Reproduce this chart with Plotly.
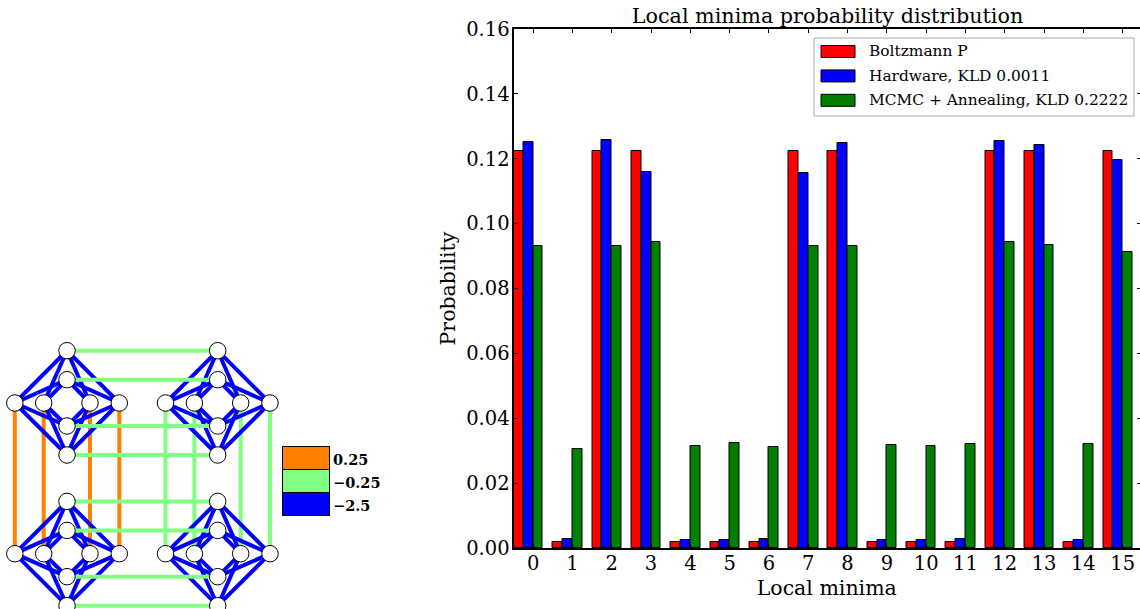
import plotly.graph_objects as go

W, H = 1140, 609
FONT = "DejaVu Serif"

# ---- bar chart data ----
minima = list(range(16))
boltzmann = [.1225, .002, .1225, .1225, .002, .002, .002, .1225, .1225, .002, .002, .002, .1225, .1225, .002, .1225]
hardware = [.1253, .0028, .1257, .1160, .0025, .0026, .0028, .1155, .1250, .0024, .0026, .0027, .1255, .1243, .0026, .1195]
mcmc = [.0930, .0305, .0932, .0943, .0315, .0325, .0310, .0930, .0930, .0317, .0313, .0320, .0943, .0935, .0322, .0913]
series_names = ["Boltzmann P", "Hardware, KLD 0.0011", "MCMC + Annealing, KLD 0.2222"]
series_colors = ["#ff0000", "#0000ff", "#008000"]
y_ticks = [0, .02, .04, .06, .08, .10, .12, .14, .16]
y_ticktext = ["0.00", "0.02", "0.04", "0.06", "0.08", "0.10", "0.12", "0.14", "0.16"]

# ---- graph diagram data (drawn on a pixel-like scale) ----
col_x = [67, 217.7]
row_offsets = [0, 150.7]
vert_rows = [350.7, 379.7, 426, 455]
horiz_offsets = [-52.2, -23.3, 23, 52.3]
horiz_y = 403
ORANGE, LGREEN, BLUE = "#ff8000", "#80ff80", "#0000ff"
key_labels = ["0.25", "\u22120.25", "\u22122.5"]
key_colors = [ORANGE, LGREEN, BLUE]
key_sizes = [23.3, 23.3, 23.3]


def seg(pairs):
    xs, ys = [], []
    for (a, b), (c, d) in pairs:
        xs += [a, c, None]
        ys += [b, d, None]
    return xs, ys


orange_edges = [((col_x[0] + o, horiz_y), (col_x[0] + o, horiz_y + row_offsets[1])) for o in horiz_offsets]
green_v = [((col_x[1] + o, horiz_y), (col_x[1] + o, horiz_y + row_offsets[1])) for o in horiz_offsets]
green_h = [((col_x[0], r + dy), (col_x[1], r + dy)) for dy in row_offsets for r in vert_rows]
blue_edges = []
nodes = []
for cx in col_x:
    for dy in row_offsets:
        for r in vert_rows:
            nodes.append((cx, r + dy))
            for o in horiz_offsets:
                blue_edges.append(((cx, r + dy), (cx + o, horiz_y + dy)))
        for o in horiz_offsets:
            nodes.append((cx + o, horiz_y + dy))

fig = go.Figure()

for vals, name, color, off in zip([boltzmann, hardware, mcmc], series_names, series_colors, [0, .25, .5]):
    fig.add_bar(x=minima, y=vals, name=name, width=.25, offset=off,
                marker=dict(color=color, line=dict(color="black", width=1)))

# carries the tick marks of the right-hand side
fig.add_scatter(x=[], y=[], yaxis="y3", xaxis="x", showlegend=False, hoverinfo="skip")

for edges, color in [(orange_edges, ORANGE), (green_v, LGREEN), (blue_edges, BLUE), (green_h, LGREEN)]:
    xs, ys = seg(edges)
    fig.add_scatter(x=xs, y=ys, xaxis="x2", yaxis="y2", mode="lines", showlegend=False,
                    hoverinfo="skip", line=dict(color=color, width=4), cliponaxis=False)
fig.add_scatter(x=[n[0] for n in nodes], y=[n[1] for n in nodes], xaxis="x2", yaxis="y2", mode="markers",
                showlegend=False, hoverinfo="skip", cliponaxis=False,
                marker=dict(size=16.5, color="white", line=dict(color="black", width=1)))

# colour key
key_top = 446.5
base = key_top
annots = []
for lab, col, sz in zip(key_labels, key_colors, key_sizes):
    fig.add_bar(x=[306.7], y=[sz], base=[base], width=46.5, xaxis="x2", yaxis="y2", showlegend=False,
                hoverinfo="skip", marker=dict(color=col, line=dict(color="black", width=1)))
    annots.append(dict(x=331, y=base + sz / 2 + 1, xref="x2", yref="y2", text=f"<b>{lab}</b>", showarrow=False,
                       xanchor="left", yanchor="middle", font=dict(family=FONT, size=14.5, color="black")))
    base += sz

# legend box, in page fractions
shapes = [dict(type="rect", xref="paper", yref="paper", x0=814 / W, x1=1134 / W, y0=1 - 116 / H, y1=1 - 38 / H,
               fillcolor="white", line=dict(color="#aaaaaa", width=1), layer="above")]
for i, (name, color) in enumerate(zip(series_names, series_colors)):
    yc = 51.5 + 24.4 * i
    shapes.append(dict(type="rect", xref="paper", yref="paper", x0=821 / W, x1=855 / W,
                       y0=1 - (yc + 6) / H, y1=1 - (yc - 6) / H, fillcolor=color,
                       line=dict(color="black", width=1), layer="above"))
    annots.append(dict(x=867 / W, y=1 - yc / H, xref="paper", yref="paper", text=name, showarrow=False,
                       xanchor="left", yanchor="middle", font=dict(family=FONT, size=15.4, color="black")))

axis_font = dict(family=FONT, size=20.5, color="black")
tick_font = dict(family=FONT, size=19.5, color="black")
fig.update_layout(
    width=W, height=H, autosize=False, margin=dict(l=0, r=0, t=0, b=0, autoexpand=False),
    paper_bgcolor="white", plot_bgcolor="white", barmode="overlay", bargap=0,
    font=dict(family=FONT, color="black"),
    title=dict(text="Local minima probability distribution", font=dict(family=FONT, size=20.7, color="black"),
               x=827.5 / W, xanchor="center", xref="paper", y=1 - 16 / H, yanchor="middle", yref="container"),
    xaxis=dict(domain=[513.5 / W, 1], range=[0, (W - 513.5) / 39.3], tickmode="array",
               tickvals=[i + .5 for i in minima], ticktext=[str(i) for i in minima],
               ticks="inside", ticklen=4, tickwidth=1, tickcolor="black", showline=True, linecolor="black",
               linewidth=2, mirror="ticks", showgrid=False, zeroline=False, tickfont=tick_font,
               ticklabelstandoff=-3,
               title=dict(text="Local minima", font=axis_font, standoff=6), anchor="y"),
    yaxis=dict(domain=[(H - 548) / H, (H - 29) / H], range=[0, .16], tickmode="array", tickvals=y_ticks,
               ticktext=y_ticktext, ticks="inside", ticklen=4, tickwidth=1, tickcolor="black", showline=True,
               linecolor="black", linewidth=2, showgrid=False, zeroline=False, tickfont=tick_font,
               ticklabelstandoff=-2,
               title=dict(text="Probability", font=axis_font, standoff=5), anchor="x"),
    yaxis3=dict(overlaying="y", side="right", anchor="x", range=[0, .16], tickmode="array", tickvals=y_ticks,
                showticklabels=False, ticks="inside", ticklen=3, tickwidth=1, tickcolor="black", showline=False,
                showgrid=False, zeroline=False),
    xaxis2=dict(domain=[0, 410 / W], range=[0, 410], visible=False, anchor="y2"),
    yaxis2=dict(domain=[0, 1], range=[H, 0], visible=False, anchor="x2"),
    annotations=annots,
    shapes=shapes,
    showlegend=False,
)
fig.write_html("out.html", config={"displayModeBar": False}, post_script=(
    "document.body.style.margin='0';document.documentElement.style.overflow='hidden';"
    "document.body.style.overflow='hidden';"))
